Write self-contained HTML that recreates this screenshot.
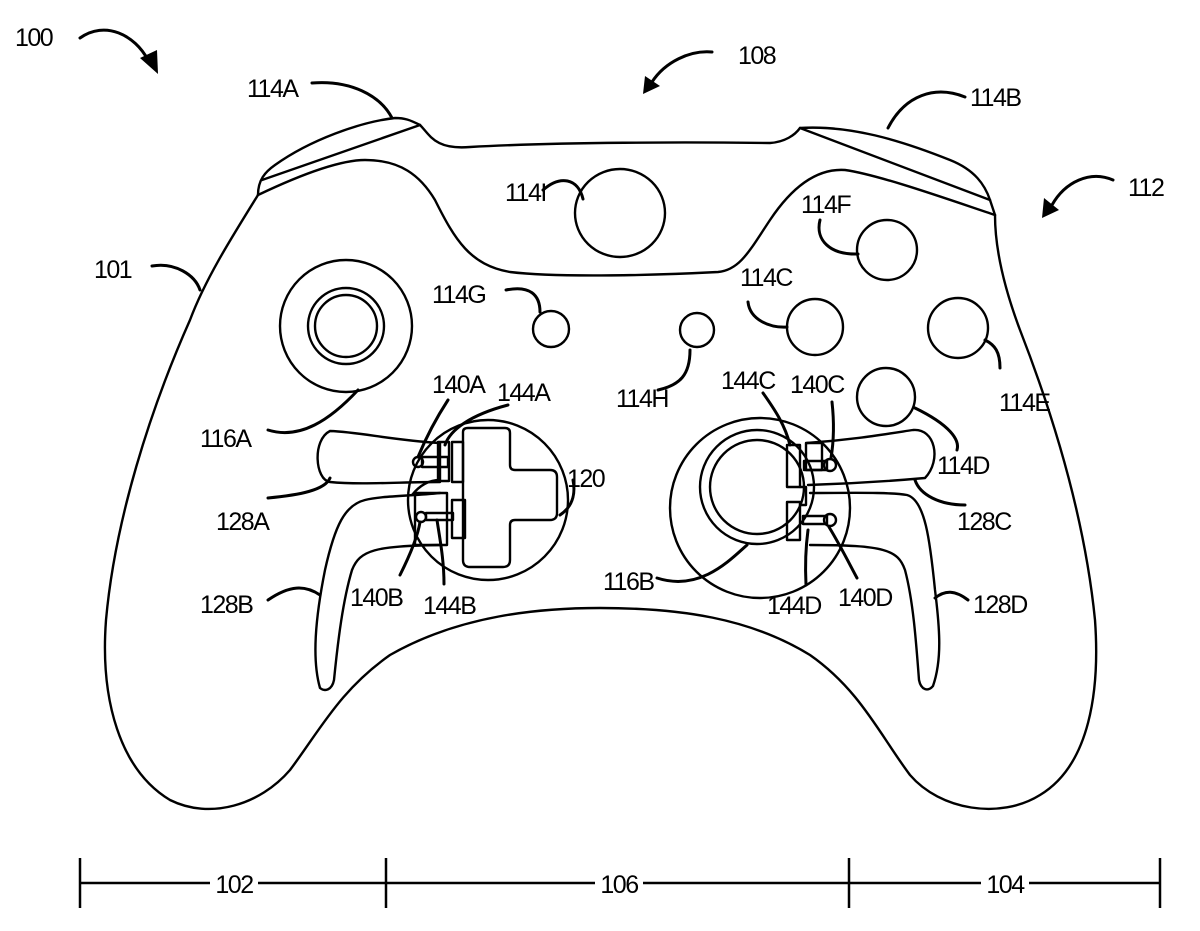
<!DOCTYPE html>
<html><head><meta charset="utf-8"><style>
html,body{margin:0;padding:0;background:#fff}
svg{display:block}
text{font-family:"Liberation Sans",Arial,sans-serif;font-size:25px;letter-spacing:-1.5px;fill:#000}
</style></head><body>
<svg width="1200" height="931" viewBox="0 0 1200 931" xmlns="http://www.w3.org/2000/svg">
<g fill="none" stroke="#000" stroke-width="2.4" stroke-linecap="round" stroke-linejoin="round">
<path d="M258,195 C230,240 205,280 190,320 C150,410 115,520 106,620 C100,700 120,770 170,800 C210,820 260,805 290,770 C320,730 340,690 390,655 C460,615 540,608 600,608 C680,608 750,618 810,655 C860,690 880,735 910,775 C940,810 1000,820 1040,795 C1090,765 1100,690 1095,620 C1085,520 1055,420 1020,330 C1005,290 995,250 995,215"/>
<path d="M258,195 C258,180 265,172 275,165 C310,140 360,122 395,118 C405,118 410,120 420,125"/>
<path d="M262,180 L420,125"/>
<path d="M420,125 C430,135 435,150 470,147 C560,142 690,142 770,143 C785,142 795,135 800,128"/>
<path d="M800,128 C850,125 900,140 950,160 C975,170 985,185 990,200 L995,215"/>
<path d="M800,128 L990,200"/>
<path d="M258,195 C300,175 340,160 365,160 C400,160 420,175 435,200 C455,240 470,265 510,272 C560,278 660,275 718,272 C740,270 750,250 770,220 C790,190 815,168 845,170 C880,175 950,200 995,215"/>
<circle cx="346" cy="326" r="66"/>
<circle cx="346" cy="326" r="38"/>
<circle cx="346" cy="326" r="31"/>
<ellipse cx="620" cy="213" rx="45" ry="44"/>
<circle cx="551" cy="329" r="18"/>
<circle cx="697" cy="330" r="17"/>
<circle cx="887" cy="250" r="30"/>
<circle cx="815" cy="327" r="28"/>
<circle cx="958" cy="328" r="30"/>
<circle cx="886" cy="397" r="29"/>
<circle cx="760" cy="508" r="90"/>
<circle cx="757" cy="487" r="57"/>
<circle cx="757" cy="487" r="47"/>
<circle cx="488" cy="500" r="80"/>
<path d="M463,432 Q463,428 468,428 L505,428 Q510,428 510,433 L510,465 Q510,470 515,470 L550,470 Q557,470 557,477 L557,513 Q557,520 550,520 L515,520 Q510,520 510,525 L510,560 Q510,567 503,567 L470,567 Q463,567 463,560 Z"/>
<path d="M330,431 C360,432 390,440 440,443 L440,482 C400,482 360,485 330,482 C315,480 312,440 330,431 Z"/>
<path d="M440,493 C410,496 380,496 365,500 C345,505 335,525 325,570 C315,620 312,660 320,688 C325,692 332,690 334,680 C338,640 343,600 352,570 C360,550 375,546 440,545"/>
<path d="M807,443 C850,440 880,435 913,430 C935,428 942,460 925,478 C880,482 840,484 808,485"/>
<path d="M810,493 C850,493 890,492 907,495 C925,500 930,540 935,590 C940,630 942,660 933,686 C928,692 921,690 919,680 C916,640 913,600 905,570 C898,550 885,545 810,545"/>
<rect x="438" y="442" width="11" height="39"/>
<rect x="452" y="442" width="11" height="40"/>
<rect x="422" y="457" width="26" height="10"/>
<circle cx="418" cy="462" r="5"/>
<rect x="415" y="493" width="32" height="52"/>
<rect x="452" y="500" width="13" height="38"/>
<rect x="426" y="513" width="27" height="7"/>
<circle cx="421" cy="517" r="5"/>
<path d="M440,480 C430,480 420,485 412,495"/>
<rect x="787" y="445" width="13" height="42"/>
<rect x="806" y="443" width="16" height="27"/>
<rect x="804" y="461" width="23" height="9"/>
<circle cx="830" cy="465" r="6"/>
<rect x="787" y="502" width="13" height="38"/>
<rect x="803" y="516" width="24" height="8"/>
<circle cx="830" cy="520" r="6"/>
<path d="M800,487 L806,487 L806,505 L800,505"/>
</g>
<g fill="none" stroke="#000" stroke-width="3" stroke-linecap="round">
<path d="M312,83 C350,80 380,95 392,118"/>
<path d="M965,97 C935,85 905,95 888,128"/>
<path d="M152,266 C175,262 195,275 200,290"/>
<path d="M543,190 C560,175 578,178 583,199"/>
<path d="M820,220 C815,240 830,255 858,254"/>
<path d="M506,290 C530,285 540,295 540,312"/>
<path d="M748,302 C750,320 770,328 787,327"/>
<path d="M1000,368 C1000,352 995,345 985,340"/>
<path d="M658,390 C680,385 690,375 690,350"/>
<path d="M268,430 C300,440 330,420 358,390"/>
<path d="M448,400 C435,420 425,440 418,457"/>
<path d="M508,405 C470,415 450,430 445,445"/>
<path d="M763,393 C775,410 785,425 790,445"/>
<path d="M832,402 C834,420 834,440 831,458"/>
<path d="M957,450 C960,440 950,425 915,408"/>
<path d="M560,515 C575,505 575,490 573,480"/>
<path d="M268,498 C300,495 325,490 330,478"/>
<path d="M965,505 C940,505 920,495 915,480"/>
<path d="M268,600 C290,585 305,585 320,595"/>
<path d="M400,575 C410,555 418,535 420,522"/>
<path d="M444,584 C444,560 440,540 437,520"/>
<path d="M657,578 C700,592 730,560 747,545"/>
<path d="M806,585 C805,565 806,545 808,530"/>
<path d="M857,578 C850,565 840,545 829,527"/>
<path d="M968,600 C955,590 945,590 935,598"/>
</g>
<g fill="none" stroke="#000" stroke-width="3" stroke-linecap="round">
<path d="M80,38 C105,20 135,35 148,60"/>
<path d="M712,52 C690,50 665,62 652,82"/>
<path d="M1113,180 C1090,170 1065,182 1052,205"/>
</g>
<g fill="#000">
<polygon points="140,58 158,74 157,50"/>
<polygon points="645,76 643,94 660,86"/>
<polygon points="1044,198 1042,218 1059,210"/>
</g>
<g stroke="#000" stroke-width="2.5">
<line x1="80" y1="883" x2="1160" y2="883"/>
<line x1="80" y1="858" x2="80" y2="908"/>
<line x1="386" y1="858" x2="386" y2="908"/>
<line x1="849" y1="858" x2="849" y2="908"/>
<line x1="1160" y1="858" x2="1160" y2="908"/>
</g>
<g fill="#fff"><rect x="210" y="870" width="48" height="26"/><rect x="595" y="870" width="48" height="26"/><rect x="981" y="870" width="48" height="26"/></g>
<text x="234" y="893" text-anchor="middle">102</text>
<text x="619" y="893" text-anchor="middle">106</text>
<text x="1005" y="893" text-anchor="middle">104</text>
<text x="15" y="46">100</text>
<text x="738" y="64">108</text>
<text x="247" y="97">114A</text>
<text x="970" y="106">114B</text>
<text x="1128" y="196">112</text>
<text x="94" y="278">101</text>
<text x="505" y="201">114I</text>
<text x="801" y="213">114F</text>
<text x="432" y="303">114G</text>
<text x="740" y="286">114C</text>
<text x="999" y="411">114E</text>
<text x="616" y="407">114H</text>
<text x="200" y="447">116A</text>
<text x="432" y="393">140A</text>
<text x="497" y="401">144A</text>
<text x="721" y="389">144C</text>
<text x="790" y="393">140C</text>
<text x="937" y="474">114D</text>
<text x="567" y="487">120</text>
<text x="216" y="530">128A</text>
<text x="957" y="530">128C</text>
<text x="200" y="613">128B</text>
<text x="350" y="606">140B</text>
<text x="423" y="614">144B</text>
<text x="603" y="590">116B</text>
<text x="767" y="614">144D</text>
<text x="838" y="606">140D</text>
<text x="973" y="613">128D</text>
</svg>
</body></html>
